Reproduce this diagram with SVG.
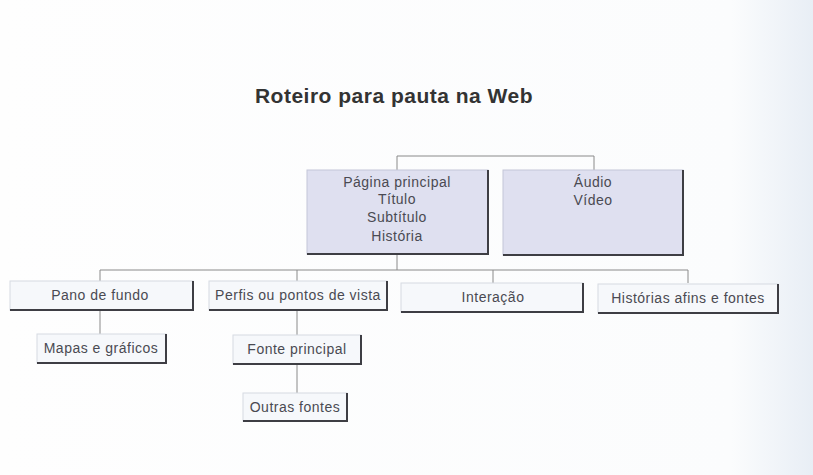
<svg xmlns="http://www.w3.org/2000/svg" width="813" height="475" viewBox="0 0 813 475">
  <defs>
    <linearGradient id="bg" x1="0" y1="0" x2="1" y2="0">
      <stop offset="0" stop-color="#fefefe"/>
      <stop offset="0.9" stop-color="#fbfcfd"/>
      <stop offset="1" stop-color="#e8eef5"/>
    </linearGradient>
  </defs>
  <style>
    .t { font-family: "Liberation Sans", Arial, sans-serif; fill: #4a4a52; text-anchor: middle; font-size: 14px; letter-spacing: 0.5px; }
    .title { font-family: "Liberation Sans", Arial, sans-serif; font-weight: bold; font-size: 21px; fill: #333; text-anchor: middle; letter-spacing: 0.5px; }
    .top { fill: #dfe0f0; stroke: #c4c6d8; stroke-width: 1; }
    .low { fill: #f6f8fb; stroke: #d6dae2; stroke-width: 1; }
    .sh { fill: none; stroke: #3e3e44; stroke-width: 2; }
    .c { fill: none; stroke: #8a8a8a; stroke-width: 1; }
  </style>
  <rect x="0" y="0" width="813" height="475" fill="url(#bg)"/>
  <text class="title" x="394" y="103">Roteiro para pauta na Web</text>

  <g id="connectors">
    <path class="c" d="M397,170 V156 H594 V170"/>
    <path class="c" d="M397,255 V270"/>
    <path class="c" d="M100,281 V270 H688 V283"/>
    <path class="c" d="M297,270 V281"/>
    <path class="c" d="M493,270 V283"/>
    <path class="c" d="M100,310 V334"/>
    <path class="c" d="M297,310 V335"/>
    <path class="c" d="M297,365 V393"/>
  </g>

  <g id="pagina-principal">
    <rect class="top" x="307" y="170" width="181" height="84"/>
    <path class="sh" d="M488,170 V254 H307"/>
    <text class="t" x="397" y="187">Página principal</text>
    <text class="t" x="397" y="204">Título</text>
    <text class="t" x="397" y="222">Subtítulo</text>
    <text class="t" x="397" y="241">História</text>
  </g>
  <g id="audio-video">
    <rect class="top" x="503" y="170" width="180" height="85"/>
    <path class="sh" d="M683,170 V255 H503"/>
    <text class="t" x="593" y="187">Áudio</text>
    <text class="t" x="593" y="205">Vídeo</text>
  </g>

  <g id="pano-de-fundo">
    <rect class="low" x="10" y="281" width="183" height="29"/>
    <path class="sh" d="M193,281 V310 H10"/>
    <text class="t" x="100" y="300">Pano de fundo</text>
  </g>
  <g id="perfis">
    <rect class="low" x="209" y="281" width="178" height="29"/>
    <path class="sh" d="M387,281 V310 H209"/>
    <text class="t" x="298" y="300">Perfis ou pontos de vista</text>
  </g>
  <g id="interacao">
    <rect class="low" x="401" y="283" width="182" height="29"/>
    <path class="sh" d="M583,283 V312 H401"/>
    <text class="t" x="493" y="302">Interação</text>
  </g>
  <g id="historias">
    <rect class="low" x="598" y="284" width="180" height="29"/>
    <path class="sh" d="M778,284 V313 H598"/>
    <text class="t" x="688" y="303">Histórias afins e fontes</text>
  </g>

  <g id="mapas">
    <rect class="low" x="37" y="334" width="129" height="29"/>
    <path class="sh" d="M166,334 V363 H37"/>
    <text class="t" x="101" y="353">Mapas e gráficos</text>
  </g>
  <g id="fonte-principal">
    <rect class="low" x="233" y="335" width="128" height="29"/>
    <path class="sh" d="M361,335 V364 H233"/>
    <text class="t" x="297" y="354">Fonte principal</text>
  </g>
  <g id="outras-fontes">
    <rect class="low" x="243" y="393" width="104" height="28"/>
    <path class="sh" d="M347,393 V421 H243"/>
    <text class="t" x="295" y="412">Outras fontes</text>
  </g>
</svg>
